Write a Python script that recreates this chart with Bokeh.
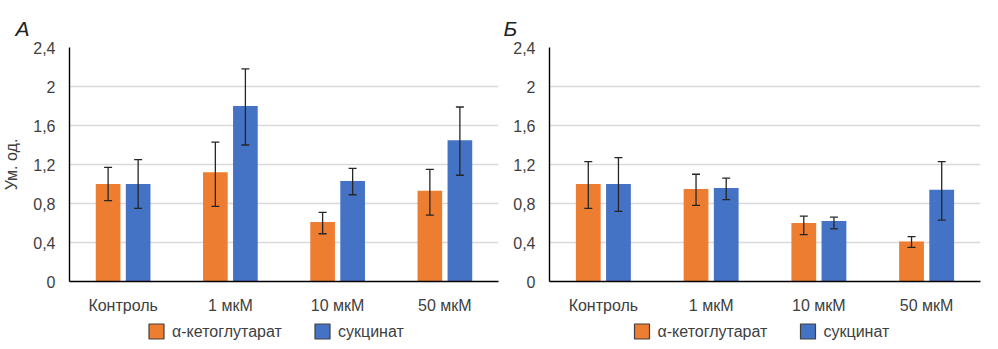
from bokeh.plotting import figure
from bokeh.models import (FactorRange, Range1d, FixedTicker, Whisker, TeeHead,
                          ColumnDataSource)
from bokeh.core.properties import value
from bokeh.transform import dodge
from bokeh.layouts import row, column
from bokeh.embed import file_html
from bokeh.resources import INLINE

categories = ["Контроль", "1 мкМ", "10 мкМ", "50 мкМ"]
series_names = ["α-кетоглутарат", "сукцинат"]

# Panel A
a_akg = [1.00, 1.12, 0.61, 0.93]
a_akg_lo = [0.83, 0.77, 0.49, 0.68]
a_akg_hi = [1.17, 1.43, 0.71, 1.15]
a_suc = [1.00, 1.80, 1.03, 1.45]
a_suc_lo = [0.75, 1.40, 0.89, 1.09]
a_suc_hi = [1.25, 2.18, 1.16, 1.79]

# Panel B
b_akg = [1.00, 0.95, 0.60, 0.41]
b_akg_lo = [0.75, 0.78, 0.48, 0.35]
b_akg_hi = [1.23, 1.10, 0.67, 0.46]
b_suc = [1.00, 0.96, 0.62, 0.94]
b_suc_lo = [0.72, 0.84, 0.54, 0.63]
b_suc_hi = [1.27, 1.06, 0.66, 1.23]

y_ticks = [0, 0.4, 0.8, 1.2, 1.6, 2.0, 2.4]
y_tick_labels = ["0", "0,4", "0,8", "1,2", "1,6", "2", "2,4"]
y_label = "Ум. од."
panel_titles = ["А", "Б"]

ORANGE = "#ED7D31"
BLUE = "#4472C4"
series_colors = [ORANGE, BLUE]
TEXT = "#404040"
ERR = "#262626"
FONT = "Liberation Sans"
H = 316
LH = 24


def make_panel(title, akg, akg_lo, akg_hi, suc, suc_lo, suc_hi, ylabel,
               width, mbl, mbr, title_offset):
    p = figure(x_range=FactorRange(*categories), y_range=Range1d(0, 2.4),
               width=width, height=H, output_backend="svg",
               toolbar_location=None, min_border_left=mbl,
               min_border_right=mbr, min_border_top=47, min_border_bottom=30)
    p.outline_line_color = None
    p.title.text = title
    p.title.text_font = FONT
    p.title.text_font_style = "italic"
    p.title.text_font_size = "21px"
    p.title.text_color = "#222222"
    p.title.align = "left"
    p.title.offset = title_offset
    p.title.standoff = 15

    src = ColumnDataSource(dict(cat=categories, akg=akg, akg_lo=akg_lo,
                                akg_hi=akg_hi, suc=suc, suc_lo=suc_lo,
                                suc_hi=suc_hi))
    off = 0.14
    bw = 0.23
    p.vbar(x=dodge("cat", -off, range=p.x_range), top="akg", width=bw,
           source=src, fill_color=ORANGE, line_color=None)
    p.vbar(x=dodge("cat", off, range=p.x_range), top="suc", width=bw,
           source=src, fill_color=BLUE, line_color=None)
    for o, lo, hi in [(-off, "akg_lo", "akg_hi"), (off, "suc_lo", "suc_hi")]:
        w = Whisker(base=dodge("cat", o, range=p.x_range), lower=lo, upper=hi,
                    source=src, line_color=ERR, line_width=1.3, level="overlay",
                    upper_head=TeeHead(size=8, line_color=ERR, line_width=1.3),
                    lower_head=TeeHead(size=8, line_color=ERR, line_width=1.3))
        p.add_layout(w)

    p.xgrid.grid_line_color = None
    p.ygrid.grid_line_color = "#d9d9d9"
    p.ygrid.grid_line_width = 1.3
    p.yaxis.ticker = FixedTicker(ticks=y_ticks)
    p.yaxis.major_label_overrides = {t: l for t, l in zip(y_ticks, y_tick_labels)}
    for ax in (p.xaxis, p.yaxis):
        ax.major_tick_line_color = None
        ax.minor_tick_line_color = None
        ax.axis_line_color = "black"
        ax.axis_line_width = 1.4
        ax.major_label_text_font = FONT
        ax.major_label_text_font_size = "16px"
        ax.major_label_text_color = TEXT
    p.xaxis.major_label_standoff = 9
    p.yaxis.major_label_standoff = 8
    if ylabel:
        p.yaxis.axis_label = ylabel
        p.yaxis.axis_label_text_font = FONT
        p.yaxis.axis_label_text_font_size = "16px"
        p.yaxis.axis_label_text_font_style = "normal"
        p.yaxis.axis_label_text_color = TEXT
        p.yaxis.axis_label_standoff = 10
    return p


def make_legend(width, mbl, mbr):
    fw = width - mbl - mbr
    lp = figure(width=width, height=LH, output_backend="svg",
                toolbar_location=None, x_range=Range1d(0, fw),
                y_range=Range1d(0, LH), x_axis_type=None, y_axis_type=None,
                min_border_left=mbl, min_border_right=mbr,
                min_border_top=0, min_border_bottom=0)
    lp.outline_line_color = None
    lp.xgrid.visible = False
    lp.ygrid.visible = False
    cx = fw / 2.0
    sw_x = [cx - 123.0, cx + 43.0]
    tx_x = [cx - 107.5, cx + 58.5]
    yc = [9, 9]
    lp.rect(x=sw_x, y=yc, width=15, height=15, fill_color=series_colors,
            line_color="#404040", line_width=1.2)
    lp.text(x=tx_x, y=yc, text=series_names, text_font=value(FONT),
            text_font_size="16px", text_baseline="middle",
            text_color=TEXT)
    return lp


pA = make_panel(panel_titles[0], a_akg, a_akg_lo, a_akg_hi, a_suc, a_suc_lo,
                a_suc_hi, y_label, 500, 60, 2, -54)
pB = make_panel(panel_titles[1], b_akg, b_akg_lo, b_akg_hi, b_suc, b_suc_lo,
                b_suc_hi, None, 482, 49, 2, -46)
lA = make_legend(500, 60, 2)
lB = make_legend(482, 49, 2)

layout = column(row(pA, pB), row(lA, lB))
open("out.html", "w").write(file_html(layout, INLINE))
